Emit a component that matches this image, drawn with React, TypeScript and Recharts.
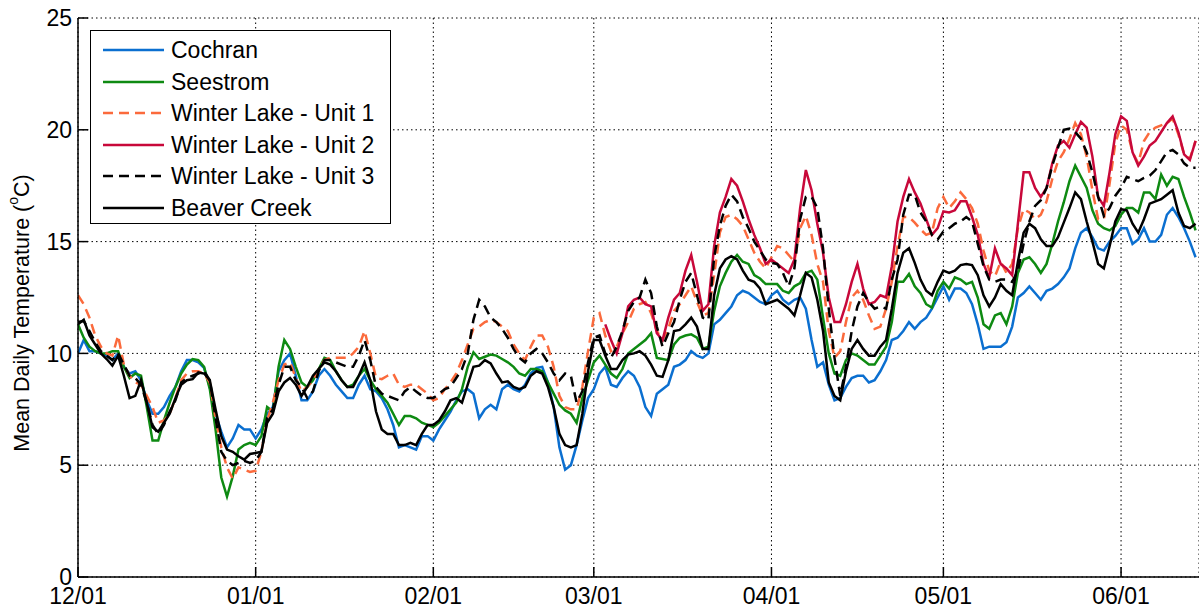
import React from "react";
import { LineChart, Line, XAxis, YAxis, CartesianGrid, Legend } from "recharts";

// Day index 0 = 12/01, daily mean temperatures (°C)
const tickDays = [0, 31, 62, 90, 121, 151, 182];
const tickLabels = ["12/01", "01/01", "02/01", "03/01", "04/01", "05/01", "06/01"];
const yTicks = [0, 5, 10, 15, 20, 25];

const cochran = [
  10.0, 10.6, 10.1, 10.1, 10.0, 9.9, 9.7, 10.0, 9.4, 9.1,
  9.2, 8.8, 7.9, 7.3, 7.3, 7.6, 8.1, 8.5, 9.2, 9.7,
  9.7, 9.6, 9.35, 8.5, 7.3, 6.5, 5.8, 6.2, 6.8, 6.6,
  6.6, 6.2, 6.6, 7.3, 7.6, 9.2, 9.7, 10.0, 9.0, 7.9,
  7.9, 8.3, 9.0, 9.3, 9.0, 8.6, 8.3, 8.0, 8.0, 8.6,
  9.0, 8.4, 8.3, 8.0, 7.5, 6.8, 5.8, 5.9, 5.8, 5.7,
  6.3, 6.3, 6.1, 6.6, 7.0, 7.4, 7.9, 8.3, 8.4, 8.2,
  7.1, 7.5, 7.7, 7.5, 8.4, 8.6, 8.4, 8.3, 8.6, 9.1,
  9.35, 9.4, 8.7, 7.6, 5.8, 4.8, 5.0, 5.9, 7.0, 8.0,
  8.4, 9.1, 9.4, 8.6, 8.5, 8.9, 9.2, 9.0, 8.5, 7.6,
  7.2, 8.2, 8.4, 8.6, 9.4, 9.5, 9.7, 10.1, 9.9, 9.8,
  10.0, 11.3, 11.5, 11.8, 12.1, 12.6, 12.8, 12.7, 12.5, 12.3,
  12.2, 12.6, 12.8, 12.4, 12.2, 12.4, 12.5, 12.0, 10.6, 9.4,
  9.6, 8.6, 7.9, 8.0, 8.5, 8.9, 9.0, 9.0, 8.7, 8.8,
  9.2, 9.7, 10.6, 10.7, 11.0, 11.4, 11.1, 11.4, 11.6, 12.0,
  12.5, 13.0, 12.4, 12.9, 12.9, 12.7, 12.2, 11.3, 10.2, 10.3,
  10.3, 10.3, 10.5, 11.2, 12.5, 12.7, 13.0, 12.7, 12.4, 12.8,
  12.9, 13.1, 13.4, 13.8, 14.7, 15.4, 15.6, 15.2, 14.7, 14.6,
  15.0, 15.25, 15.6, 15.6, 14.9, 15.1, 15.6, 15.0, 15.0, 15.3,
  16.2, 16.5, 16.1, 15.6, 15.0, 14.3,
];

const seestrom = [
  11.3, 10.7, 10.3, 10.1, 10.0, 10.0, 10.1, 10.1, 9.4, 8.9,
  9.1, 9.0, 7.6, 6.1, 6.1, 7.0, 7.8, 8.5, 9.1, 9.5,
  9.75, 9.7, 9.4, 8.4, 6.6, 4.45, 3.6, 4.5, 5.7, 5.9,
  6.0, 5.9, 6.3, 7.6, 7.4, 9.4, 10.6, 10.2, 9.4, 8.7,
  8.5, 8.8, 9.3, 9.8, 9.7, 9.2, 8.8, 8.5, 8.6, 9.0,
  9.3, 8.8, 8.4, 8.1, 7.8, 7.3, 6.8, 7.2, 7.2, 7.1,
  6.9, 6.8, 6.7, 6.9, 7.2, 7.5, 7.8, 8.4, 9.4, 10.05,
  9.75, 9.85, 9.95, 9.9, 9.75, 9.6, 9.4, 9.1, 9.0, 9.3,
  9.3, 9.2, 8.7, 8.2, 7.7, 7.45, 7.3, 6.9, 8.0, 8.8,
  9.6, 9.9, 9.5, 9.1, 8.9, 9.3, 10.0, 10.2, 10.4, 10.6,
  10.9, 9.8, 9.75, 9.7, 10.4, 10.7, 10.8, 10.85, 10.7, 10.2,
  10.3, 11.9, 13.0, 13.6, 14.1, 14.4, 14.1, 14.0, 13.5, 13.35,
  13.1, 13.1, 13.1, 12.8, 12.7, 13.0, 13.15, 13.6, 13.7, 13.3,
  11.6, 10.0, 9.1, 9.0, 9.7, 10.0, 9.9, 9.7, 9.5, 9.5,
  9.9, 10.3, 11.4, 13.2, 13.2, 13.55, 13.0, 12.7, 12.2, 12.05,
  12.8, 13.2, 12.9, 13.4, 13.3, 13.1, 13.2, 12.5, 11.3, 11.1,
  11.7, 11.8, 11.3, 12.1, 13.6, 14.2, 14.3, 14.0, 13.6, 14.0,
  14.9, 15.9, 16.75, 17.7, 18.4, 17.9, 17.4, 16.4, 15.8, 15.6,
  15.5, 15.7, 16.2, 16.5, 16.5, 16.3, 17.2, 17.2, 16.9, 18.0,
  17.5, 17.9, 17.8, 17.0, 16.3, 15.5,
];

const unit1 = [
  12.6, 12.2, 11.6, 10.8, 10.3, 10.0, 9.9, 10.8, 9.5, 9.0,
  8.7, 8.6, 8.1, 7.6, 6.9, 7.0, 7.3, 8.0, 8.8, 9.1,
  9.2, 9.2, 9.1, 8.7, 7.1, 5.8, 4.9, 4.4, 4.9, 4.8,
  4.7, 4.75, 5.6, 7.0, 7.8, 8.8, 9.5, 9.6, 8.9, 8.3,
  8.5, 8.8, 9.3, 9.7, 9.8, 9.8, 9.8, 9.8, 10.0, 10.3,
  11.0, 10.0, 8.9, 8.85, 9.0, 9.1, 8.6, 8.5, 8.6, 8.6,
  8.4, 8.2, 7.9, 8.0, 8.4, 8.7, 9.1, 9.7, 10.4, 11.1,
  11.2, 11.4, 11.5, 11.4, 11.2, 11.0, 10.4, 10.0, 9.7, 10.3,
  10.8, 10.8, 10.3, 9.4, 8.1, 7.6, 7.5, 7.5, 8.5, 10.1,
  11.6, 11.8, 10.8, 10.1, 10.3, 10.9, 11.4, 12.0, 12.2, 12.3,
  11.8, 11.0, 10.6, 11.1, 11.9, 12.2, 12.6, 13.0, 12.3, 11.7,
  11.8, 13.5, 15.4, 16.1, 16.2, 16.0, 15.7, 15.1, 14.5, 14.1,
  13.8, 14.3, 14.8, 14.7, 14.4, 14.1, 15.6, 16.15, 15.3, 14.0,
  13.2, 11.0, 9.8, 10.1, 11.4, 12.5, 12.8, 12.4, 11.7, 11.1,
  11.2, 12.0, 13.2, 14.8, 16.1, 16.1, 15.85, 15.55, 15.3, 15.4,
  16.5, 17.0, 16.5, 16.8, 17.2, 16.9, 16.5, 15.8, 14.6, 13.7,
  13.45, 14.1, 13.6, 14.0, 15.6, 16.45, 16.3, 16.0, 16.2, 16.8,
  17.8, 18.6, 19.0, 19.6, 20.3, 19.8, 18.8, 17.3, 16.0, 16.0,
  17.6, 19.4, 20.2, 20.0, 19.0, 18.5, 19.5, 19.9, 20.1, 20.2,
  20.3, 20.5, 19.8, 18.9, 18.7, 19.5,
];

// Winter Lake - Unit 2 record starts on day 92 (03/03)
const unit2Start = 92;
const unit2 = [
  11.3, 10.6, 10.0, 10.9, 12.1, 12.4, 12.5, 12.2,
  12.1, 10.9, 10.6, 11.6, 12.4, 12.7, 13.7, 14.4, 13.2, 11.9,
  12.2, 14.8, 16.3, 17.0, 17.8, 17.5, 16.8, 16.0, 15.3, 14.7,
  14.0, 14.2, 14.0, 13.8, 13.6, 14.2, 16.5, 18.2, 17.3, 15.8,
  14.5, 12.5, 11.4, 11.4, 12.2, 13.2, 14.0, 12.9, 12.2, 12.3,
  12.6, 12.5, 13.9, 15.9, 17.0, 17.8, 17.2, 16.7, 16.0, 15.3,
  15.6, 16.35, 16.3, 16.4, 16.8, 16.8, 16.1, 15.3, 14.0, 13.4,
  14.7, 14.0, 13.8, 13.5, 15.8, 18.1, 18.1, 17.4, 17.0, 17.4,
  18.5, 19.3, 19.5, 19.2, 19.8, 20.35, 20.1, 18.8, 17.0, 16.6,
  18.1, 19.8, 20.6, 20.4, 19.0, 18.4, 18.8, 19.3, 19.5, 19.9,
  20.3, 20.6, 19.9, 18.9, 18.65, 19.5,
];

const unit3 = [
  11.4, 11.45, 11.0, 10.5, 10.1, 9.9, 9.7, 10.0, 9.5, 9.0,
  8.9, 8.6, 7.8, 6.8, 6.4, 6.8, 7.4, 7.9, 8.7, 8.9,
  9.0, 9.1, 9.2, 8.8, 7.1, 5.6, 5.2, 5.0, 5.1, 5.2,
  5.1, 5.2, 5.6, 7.1, 7.5, 8.6, 9.4, 9.4, 8.8, 8.5,
  8.0, 8.3, 9.2, 9.7, 9.7, 9.6, 9.5, 9.4, 9.4, 9.9,
  10.6, 9.7, 8.5, 8.2, 8.1, 8.0, 7.9, 8.3, 8.5, 8.3,
  8.1, 8.0, 8.0, 8.2, 8.4, 8.5, 8.9, 9.3, 10.0, 11.5,
  12.4, 12.1, 11.6, 11.4, 11.1, 10.7, 10.2, 9.8, 9.6, 10.0,
  10.2, 10.0, 9.6, 9.1, 8.8, 9.1, 9.0, 7.8, 8.3, 9.6,
  10.7, 10.8, 10.0, 9.8, 10.3, 11.0, 11.9, 12.3, 12.5, 13.3,
  12.7, 11.2, 10.3, 10.9, 11.4, 12.4, 13.2, 13.6, 12.6, 11.6,
  11.5, 14.3, 15.7, 16.6, 17.1, 16.8, 16.1, 15.6, 15.0, 14.6,
  14.2, 14.05, 14.0, 13.6, 13.0, 13.8, 16.0, 17.0, 17.0, 16.5,
  14.7, 12.0, 9.8, 8.1, 9.4, 11.0, 12.1, 12.7, 12.3, 12.0,
  12.1, 12.0, 13.3, 14.2, 16.2, 17.1, 17.1, 16.3, 15.9, 15.3,
  15.1, 15.45, 15.6, 15.8, 15.9, 16.1, 15.9, 14.9, 13.9, 13.3,
  13.2, 13.3, 13.3, 13.2, 13.7, 14.9, 15.9, 16.6, 16.85, 17.4,
  18.4, 19.2, 20.0, 20.05, 19.9, 19.6, 19.0, 18.1, 17.0, 16.15,
  16.5, 17.05, 17.4, 17.9, 17.8, 17.7, 17.85, 17.95, 18.2, 18.6,
  19.0, 19.1, 18.9, 18.5, 18.3, 18.3,
];

const beaver = [
  11.3, 11.5, 10.8, 10.4, 10.0, 9.75, 9.45, 9.9, 9.0, 8.0,
  8.1, 8.8, 7.8, 6.7, 6.5, 6.9, 7.3, 8.0, 8.6, 8.8,
  8.85, 9.15, 9.1, 8.8, 7.5, 6.3, 5.7, 5.6, 5.4, 5.25,
  5.5, 5.55, 5.6, 6.9, 7.3, 8.3, 8.7, 8.9, 8.6, 8.1,
  8.5, 9.0, 9.3, 9.6, 9.5, 9.2, 8.8, 8.5, 8.5, 9.0,
  9.6, 8.8, 7.4, 6.6, 6.4, 6.4, 5.9, 5.9, 6.0, 5.9,
  6.4, 6.8, 6.8, 7.0, 7.4, 7.9, 8.0, 7.8, 8.6, 9.4,
  9.45, 9.7, 9.55, 9.1, 8.7, 8.75, 8.5, 8.4, 8.5, 9.0,
  9.2, 9.1, 8.5, 7.6, 6.4, 5.9, 5.8, 5.9, 7.3, 9.2,
  10.6, 10.6, 9.9, 9.3, 9.3, 9.7, 9.95, 10.0, 10.1, 9.9,
  9.5, 9.0, 8.95, 9.7, 11.0, 11.05, 11.3, 11.6, 11.2, 10.2,
  10.2, 12.6, 13.8, 14.2, 14.35, 14.2, 13.7, 13.3, 13.2, 12.9,
  12.2, 12.3, 12.4, 12.2, 12.0, 11.7, 12.6, 13.6, 13.4, 12.4,
  11.0, 8.7, 8.1, 7.9, 9.2, 10.2, 10.6, 10.2, 9.9, 9.9,
  10.3, 10.6, 12.0, 13.6, 14.5, 14.7, 14.05, 13.3, 12.8, 12.6,
  13.2, 13.7, 13.6, 13.7, 13.95, 14.0, 13.95, 13.5, 12.6, 12.1,
  12.5, 13.1, 12.8, 12.6, 14.1, 15.4, 15.8, 15.6, 15.1, 14.8,
  14.8, 15.2, 15.85, 16.5, 17.2, 16.9, 15.9, 15.0, 14.0, 13.8,
  14.8, 15.9, 16.45, 16.4, 15.8, 15.4, 16.0, 16.7, 16.8, 16.9,
  17.1, 17.3, 16.3, 15.7, 15.6, 15.8,
];

const data = cochran.map((v, d) => ({
  day: d,
  cochran: v,
  seestrom: seestrom[d],
  unit1: unit1[d],
  unit2: d >= unit2Start ? unit2[d - unit2Start] : null,
  unit3: unit3[d],
  beaver: beaver[d],
}));

const FONT = "'Liberation Sans', Arial, Helvetica, sans-serif";
const FS = 23;

const seriesDefs = [
  { key: "cochran", name: "Cochran", color: "#0b6fd0", dash: undefined },
  { key: "seestrom", name: "Seestrom", color: "#0e8a12", dash: undefined },
  { key: "unit1", name: "Winter Lake - Unit 1", color: "#fb6a3c", dash: "10 6" },
  { key: "unit2", name: "Winter Lake - Unit 2", color: "#c8083a", dash: undefined },
  { key: "unit3", name: "Winter Lake - Unit 3", color: "#000000", dash: "10 6" },
  { key: "beaver", name: "Beaver Creek", color: "#000000", dash: undefined },
];

const labelFor = (v: number) => {
  const i = tickDays.indexOf(v);
  return i >= 0 ? tickLabels[i] : "";
};

const BottomTick = (props: any) => {
  const { x, y, payload } = props;
  return (
    <g>
      <line x1={x} y1={y} x2={x} y2={y - 10} stroke="#000" strokeWidth={1.5} />
      <text x={x} y={y + 27} textAnchor="middle" fontSize={FS} fontFamily={FONT} fill="#000">
        {labelFor(payload.value)}
      </text>
    </g>
  );
};

const TopTick = (props: any) => {
  const { x, y } = props;
  return <line x1={x} y1={y} x2={x} y2={y + 10} stroke="#000" strokeWidth={1.5} />;
};

const LeftTick = (props: any) => {
  const { x, y, payload } = props;
  return (
    <g>
      <line x1={x} y1={y} x2={x + 10} y2={y} stroke="#000" strokeWidth={1.5} />
      <text x={x - 6} y={y} dy="0.36em" textAnchor="end" fontSize={FS} fontFamily={FONT} fill="#000">
        {payload.value}
      </text>
    </g>
  );
};

const RightTick = (props: any) => {
  const { x, y } = props;
  return <line x1={x} y1={y} x2={x - 10} y2={y} stroke="#000" strokeWidth={1.5} />;
};

const YLabel = () => (
  <text
    x={22}
    y={313}
    transform="rotate(-90, 22, 313)"
    textAnchor="middle"
    dominantBaseline="central"
    fontSize={21.5}
    fontFamily={FONT}
    fill="#000"
  >
    Mean Daily Temperature (
    <tspan fontSize={14} dy={-9}>o</tspan>
    <tspan dy={9}>C)</tspan>
  </text>
);

const LegendBox = () => (
  <div
    style={{
      width: 301,
      height: 194,
      border: "1.5px solid #000",
      background: "#fff",
      boxSizing: "border-box",
      position: "relative",
      fontFamily: FONT,
      fontSize: FS,
      color: "#000",
    }}
  >
    {seriesDefs.map((s, i) => {
      const cy = 19 + i * 31.6;
      return (
        <div key={s.key} style={{ position: "absolute", left: 0, top: cy - 16, height: 32, width: 299 }}>
          <svg width={80} height={32} style={{ position: "absolute", left: 0, top: 0 }}>
            <line
              x1={12}
              x2={73}
              y1={16}
              y2={16}
              stroke={s.color}
              strokeWidth={2.5}
              strokeDasharray={s.dash}
            />
          </svg>
          <span style={{ position: "absolute", left: 80, top: 0, lineHeight: "32px", whiteSpace: "nowrap" }}>
            {s.name}
          </span>
        </div>
      );
    })}
  </div>
);

export default function App() {
  return (
    <div style={{ position: "absolute", left: 0, top: 0, width: 1199, height: 609, background: "#fff" }}>
      <LineChart
        width={1199}
        height={609}
        data={data}
        margin={{ top: 18, right: 0, bottom: 0, left: 0 }}
      >
        <CartesianGrid stroke="#000" strokeDasharray="1.5 3" strokeWidth={1} />
        <XAxis
          dataKey="day"
          type="number"
          domain={[0, 195.6]}
          ticks={tickDays}
          interval={0}
          height={32}
          tickSize={0}
          tickMargin={0}
          tickLine={false}
          tick={<BottomTick />}
          axisLine={{ stroke: "#000", strokeWidth: 1.5 }}
          allowDataOverflow
        />
        <XAxis
          xAxisId="top"
          orientation="top"
          dataKey="day"
          type="number"
          domain={[0, 195.6]}
          ticks={tickDays}
          interval={0}
          height={0}
          tickSize={0}
          tickMargin={0}
          tickLine={false}
          tick={<TopTick />}
          axisLine={{ stroke: "#000", strokeWidth: 1.5 }}
          allowDataOverflow
        />
        <YAxis
          type="number"
          domain={[0, 25]}
          ticks={yTicks}
          interval={0}
          width={78}
          tickSize={0}
          tickMargin={0}
          tickLine={false}
          tick={<LeftTick />}
          axisLine={{ stroke: "#000", strokeWidth: 1.5 }}
          label={<YLabel />}
        />
        <YAxis
          yAxisId="r"
          orientation="right"
          type="number"
          domain={[0, 25]}
          ticks={yTicks}
          interval={0}
          width={0}
          tickSize={0}
          tickMargin={0}
          tickLine={false}
          tick={<RightTick />}
          axisLine={{ stroke: "#000", strokeWidth: 1.5 }}
        />
        {seriesDefs.map((s) => (
          <Line
            key={s.key}
            dataKey={s.key}
            name={s.name}
            type="linear"
            stroke={s.color}
            strokeWidth={2.5}
            strokeDasharray={s.dash}
            dot={false}
            activeDot={false}
            isAnimationActive={false}
            connectNulls={false}
          />
        ))}
        <Legend
          layout="vertical"
          align="center"
          verticalAlign="middle"
          content={<LegendBox />}
          wrapperStyle={{ left: 90, top: 30, width: 301, height: 194 }}
        />
      </LineChart>
    </div>
  );
}
